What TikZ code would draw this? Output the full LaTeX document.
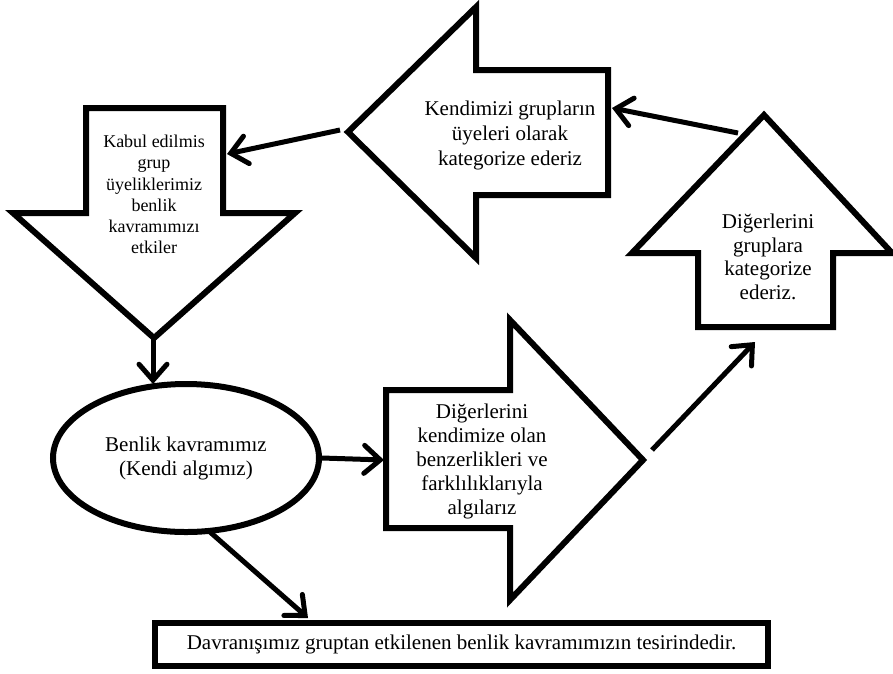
\documentclass[tikz,border=0pt]{standalone}
\usepackage{fontspec}
\setmainfont{Liberation Serif}
\usetikzlibrary{arrows.meta,shapes.geometric}
\begin{document}
\begin{tikzpicture}[x=1pt,y=-1pt,
  bigarrow/.style={draw=black, line width=6pt, fill=white, line join=miter},
  link/.style={line width=5pt, -{Straight Barb[length=16pt,width=28pt,line cap=round]}},
  txt/.style={align=center, inner sep=0pt, font=\fontsize{21}{24}\selectfont},
]
\useasboundingbox (0,0) rectangle (893,673);

% block arrows
\draw[bigarrow] (86,108) -- (223,108) -- (223,213) -- (295,213) -- (154,338)
  -- (13,213) -- (86,213) -- cycle;
\draw[bigarrow] (608,70) -- (608,195) -- (476,195) -- (476,258) -- (348,132)
  -- (476,7) -- (476,70) -- cycle;
\draw[bigarrow] (698,327) -- (833,327) -- (833,253) -- (892,253) -- (764,115)
  -- (632,253) -- (698,253) -- cycle;
\draw[bigarrow] (386,390) -- (510,390) -- (510,320) -- (643,460) -- (510,600)
  -- (510,528) -- (386,528) -- cycle;

% texts inside the block arrows
\node[txt, font=\fontsize{18}{21.2}\selectfont] (accepted) at (154,194.5)
  {Kabul edilmis\\grup\\üyeliklerimiz\\benlik\\kavramımızı\\etkiler};
\node[txt, font=\fontsize{21}{25}\selectfont] (ourselves) at (510,135)
  {Kendimizi grupların\\üyeleri olarak\\kategorize ederiz};
\node[txt, font=\fontsize{21}{23.5}\selectfont] (others) at (768,257)
  {Diğerlerini\\gruplara\\kategorize\\ederiz.};
\node[txt] (perceive) at (482,461)
  {Diğerlerini\\kendimize olan\\benzerlikleri ve\\farklılıklarıyla\\algılarız};

% self-concept ellipse and behaviour box
\node[ellipse, draw, line width=6pt, minimum width=266pt, minimum height=148pt,
  txt] (self) at (186,458) {Benlik kavramımız\\(Kendi algımız)};
\node[draw, line width=6pt, minimum width=613pt, minimum height=43pt, txt]
  (behaviour) at (461.5,644.5)
  {Davranışımız gruptan etkilenen benlik kavramımızın tesirindedir.};

% connector end points
\coordinate (c1s) at (340,130);  \coordinate (c1e) at (227,154);
\coordinate (c2s) at (738,133);  \coordinate (c2e) at (612,108);
\coordinate (c3s) at (153,338);  \coordinate (c3e) at (153,384);
\coordinate (c4e) at (384,460);
\coordinate (c5s) at (652,450);  \coordinate (c5e) at (755,342);
\coordinate (c6s) at (210,532);  \coordinate (c6e) at (308,618);

\draw[link] (c1s) -- (c1e);
\draw[link] (c2s) -- (c2e);
\draw[link] (c3s) -- (c3e);
\draw[link] (self.east) -- (c4e);
\draw[link] (c5s) -- (c5e);
\draw[link] (c6s) -- (c6e);
\end{tikzpicture}
\end{document}
